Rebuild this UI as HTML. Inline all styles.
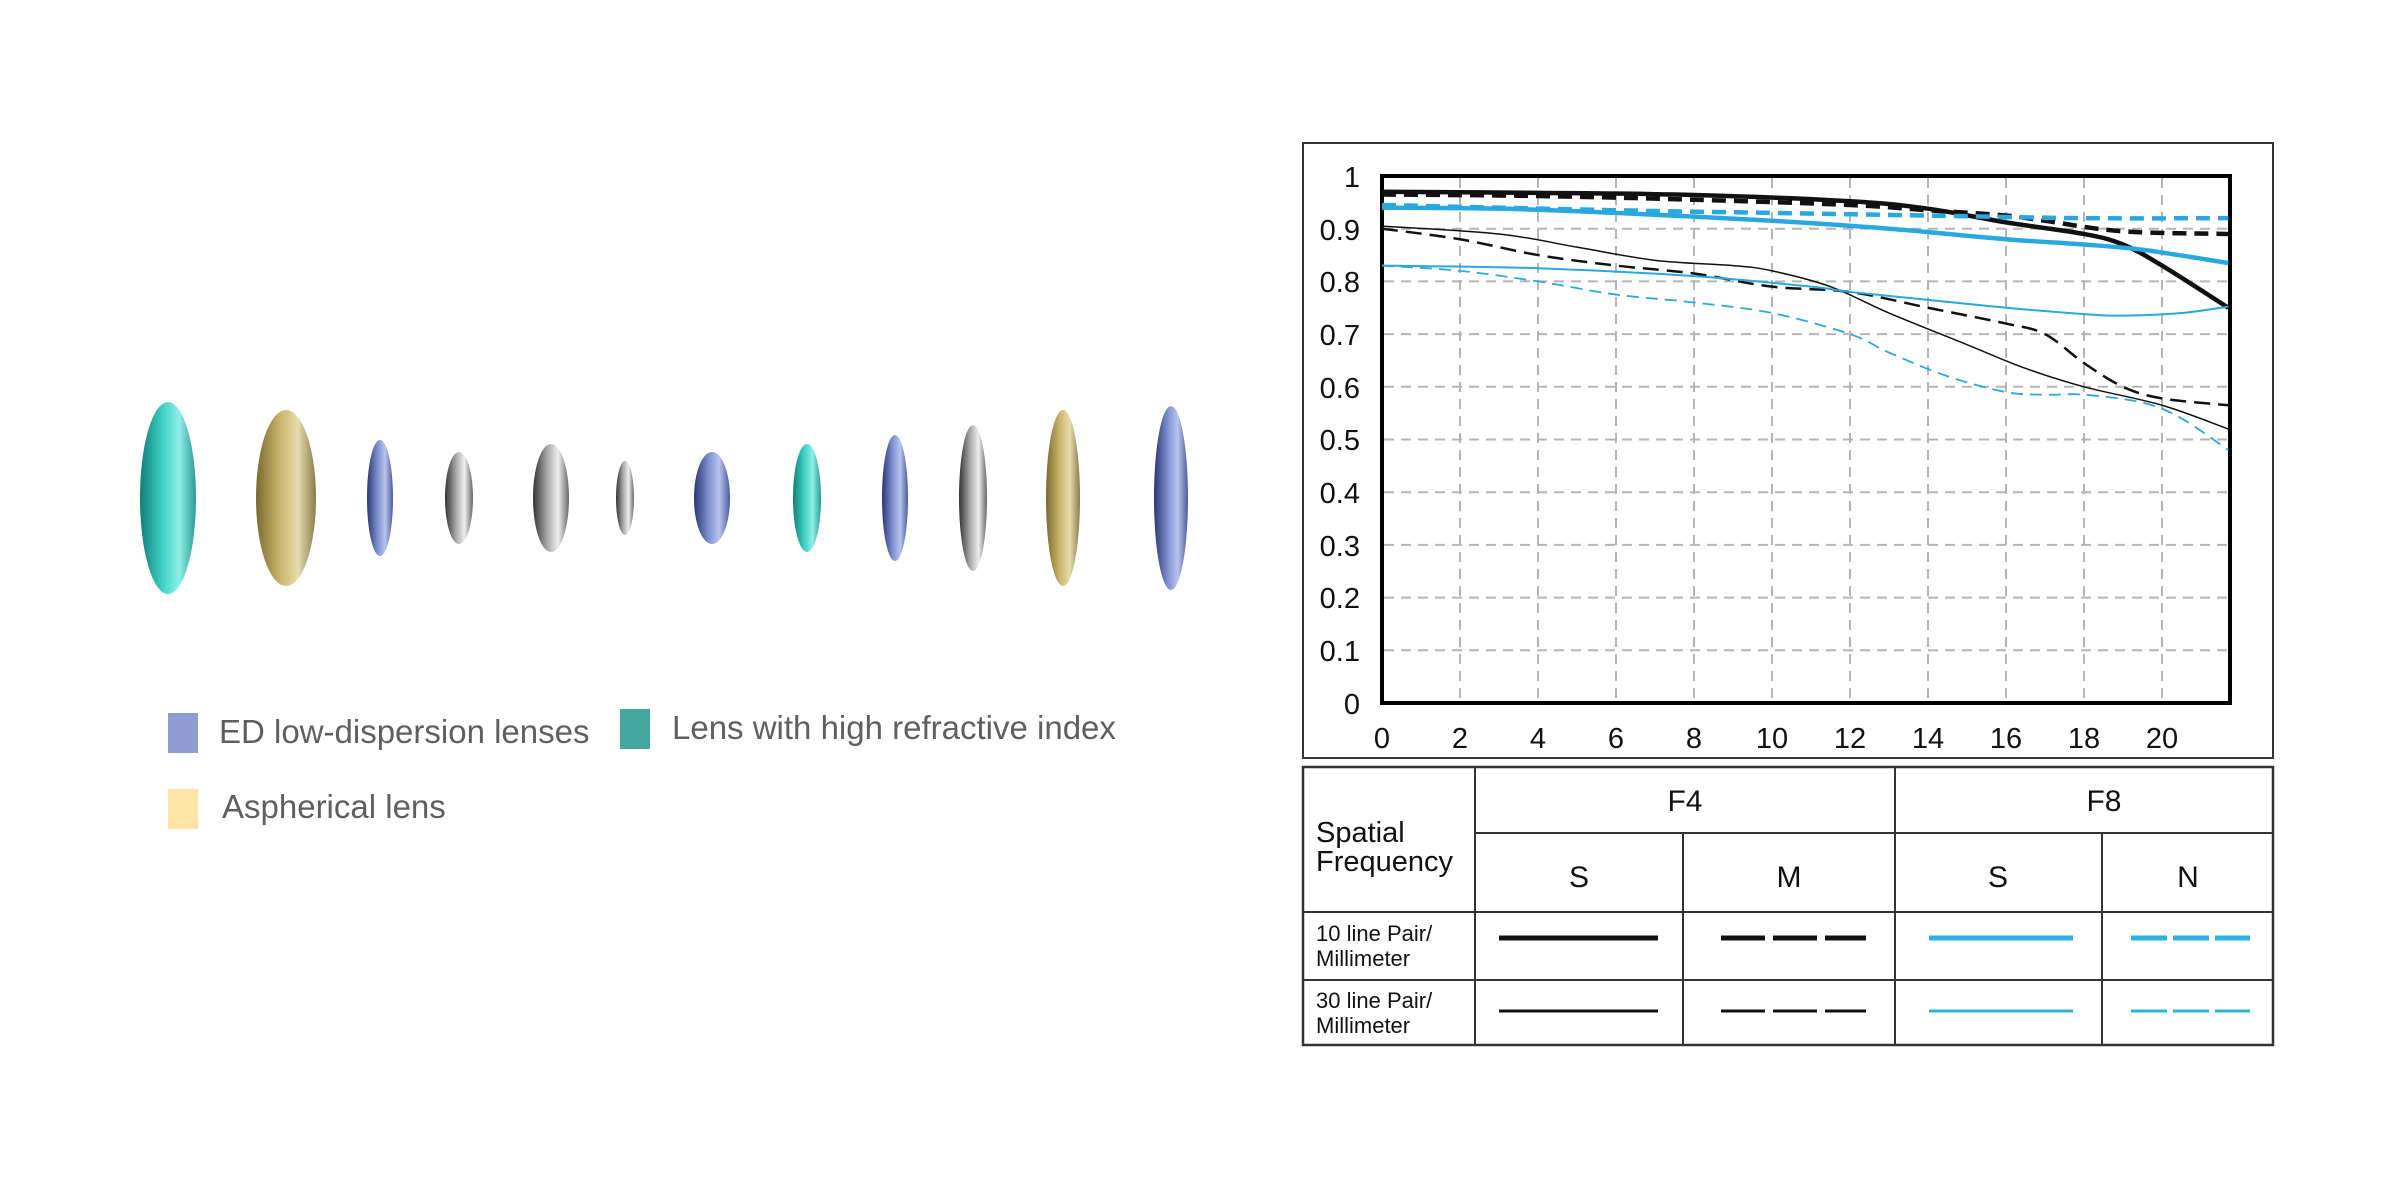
<!DOCTYPE html>
<html><head><meta charset="utf-8"><style>
html,body{margin:0;padding:0;background:#fff;}
body{width:2400px;height:1200px;position:relative;overflow:hidden;font-family:"Liberation Sans",sans-serif;}
.lg{position:absolute;font-size:33px;color:#5f5f5f;white-space:nowrap;}
.sq{position:absolute;width:30px;height:40px;}
</style></head><body>
<svg width="2400" height="1200" style="position:absolute;left:0;top:0">
<defs>
<linearGradient id="gt" x1="0" x2="1"><stop offset="0" stop-color="#0f7f78"/><stop offset=".4" stop-color="#3fd0c4"/><stop offset=".7" stop-color="#8ff0e8"/><stop offset="1" stop-color="#2a9a94"/></linearGradient>
<linearGradient id="gy" x1="0" x2="1"><stop offset="0" stop-color="#7a6a30"/><stop offset=".4" stop-color="#c9b56a"/><stop offset=".7" stop-color="#e6dcae"/><stop offset="1" stop-color="#8a7c4a"/></linearGradient>
<linearGradient id="gb" x1="0" x2="1"><stop offset="0" stop-color="#2a3670"/><stop offset=".4" stop-color="#7d8fcf"/><stop offset=".7" stop-color="#b8c4ec"/><stop offset="1" stop-color="#4a5a9a"/></linearGradient>
<linearGradient id="gs" x1="0" x2="1"><stop offset="0" stop-color="#333"/><stop offset=".4" stop-color="#aaa"/><stop offset=".7" stop-color="#eee"/><stop offset="1" stop-color="#666"/></linearGradient>
</defs>
<g id="lenses">
<ellipse cx="168" cy="498" rx="28" ry="96" fill="url(#gt)"/>
<ellipse cx="286" cy="498" rx="30" ry="88" fill="url(#gy)"/>
<ellipse cx="380" cy="498" rx="13" ry="58" fill="url(#gb)"/>
<ellipse cx="459" cy="498" rx="14" ry="46" fill="url(#gs)"/>
<ellipse cx="551" cy="498" rx="18" ry="54" fill="url(#gs)"/>
<ellipse cx="625" cy="498" rx="9" ry="37" fill="url(#gs)"/>
<ellipse cx="712" cy="498" rx="18" ry="46" fill="url(#gb)"/>
<ellipse cx="807" cy="498" rx="14" ry="54" fill="url(#gt)"/>
<ellipse cx="895" cy="498" rx="13" ry="63" fill="url(#gb)"/>
<ellipse cx="973" cy="498" rx="14" ry="73" fill="url(#gs)"/>
<ellipse cx="1063" cy="498" rx="17" ry="88" fill="url(#gy)"/>
<ellipse cx="1171" cy="498" rx="17" ry="92" fill="url(#gb)"/>
</g>
<rect x="1303" y="143" width="970" height="615" fill="none" stroke="#333" stroke-width="2"/>
<g id="grid" stroke="#b5b5b5" stroke-width="2" stroke-dasharray="10,7"></g>
<rect x="1382" y="176" width="848" height="527" fill="none" stroke="#000" stroke-width="4"/>
<g id="curves" fill="none"></g>
<g font-size="29" fill="#111" text-anchor="end">
<text x="1360" y="187">1</text><text x="1360" y="240">0.9</text><text x="1360" y="292">0.8</text><text x="1360" y="345">0.7</text><text x="1360" y="398">0.6</text><text x="1360" y="450">0.5</text><text x="1360" y="503">0.4</text><text x="1360" y="556">0.3</text><text x="1360" y="608">0.2</text><text x="1360" y="661">0.1</text><text x="1360" y="714">0</text>
</g>
<g font-size="29" fill="#111" text-anchor="middle">
<text x="1382" y="748">0</text><text x="1460" y="748">2</text><text x="1538" y="748">4</text><text x="1616" y="748">6</text><text x="1694" y="748">8</text><text x="1772" y="748">10</text><text x="1850" y="748">12</text><text x="1928" y="748">14</text><text x="2006" y="748">16</text><text x="2084" y="748">18</text><text x="2162" y="748">20</text>
</g>
<g stroke="#333" stroke-width="2" fill="none">
<rect x="1303" y="767" width="970" height="278" stroke-width="2.5"/>
<line x1="1475" y1="767" x2="1475" y2="1045"/>
<line x1="1475" y1="833" x2="2273" y2="833"/>
<line x1="1303" y1="912" x2="2273" y2="912"/>
<line x1="1303" y1="980" x2="2273" y2="980"/>
<line x1="1895" y1="767" x2="1895" y2="1045"/>
<line x1="1683" y1="833" x2="1683" y2="1045"/>
<line x1="2102" y1="833" x2="2102" y2="1045"/>
</g>
<g font-size="30" fill="#111" text-anchor="middle">
<text x="1685" y="811">F4</text><text x="2104" y="811">F8</text>
<text x="1579" y="887">S</text><text x="1789" y="887">M</text><text x="1998" y="887">S</text><text x="2188" y="887">N</text>
</g>
<g font-size="29" fill="#111"><text x="1316" y="842">Spatial</text><text x="1316" y="871">Frequency</text></g>
<g font-size="22" fill="#111">
<text x="1316" y="941">10 line Pair/</text><text x="1316" y="966">Millimeter</text>
<text x="1316" y="1008">30 line Pair/</text><text x="1316" y="1033">Millimeter</text>
</g>
<g stroke-width="5">
<line x1="1499" y1="938" x2="1658" y2="938" stroke="#111"/>
<line x1="1721" y1="938" x2="1866" y2="938" stroke="#111" stroke-dasharray="44,8"/>
<line x1="1929" y1="938" x2="2073" y2="938" stroke="#29b2e2"/>
<line x1="2131" y1="938" x2="2250" y2="938" stroke="#29b2e2" stroke-dasharray="36,6"/>
</g>
<g stroke-width="3">
<line x1="1499" y1="1011" x2="1658" y2="1011" stroke="#111"/>
<line x1="1721" y1="1011" x2="1866" y2="1011" stroke="#111" stroke-dasharray="44,8"/>
<line x1="1929" y1="1011" x2="2073" y2="1011" stroke="#29b2e2"/>
<line x1="2131" y1="1011" x2="2250" y2="1011" stroke="#29b2e2" stroke-dasharray="36,6"/>
</g>
</svg>
<div class="sq" style="left:168px;top:713px;background:#8d9dd3"></div>
<div class="lg" style="left:219px;top:713px">ED low-dispersion lenses</div>
<div class="sq" style="left:620px;top:709px;background:#45a8a0"></div>
<div class="lg" style="left:672px;top:709px">Lens with high refractive index</div>
<div class="sq" style="left:168px;top:789px;background:#fae3a5"></div>
<div class="lg" style="left:222px;top:788px">Aspherical lens</div>
<script>
(function(){
var X=function(u){return 1382+u*39.0},Y=function(v){return 703-v*527};
var g=document.getElementById('grid'),s='';
for(var i=1;i<=10;i++){s+='<line x1="1384" x2="2228" y1="'+Y(i/10)+'" y2="'+Y(i/10)+'"/>';}
for(var k=2;k<=20;k+=2){s+='<line y1="178" y2="701" x1="'+X(k)+'" x2="'+X(k)+'"/>';}
g.innerHTML=s;
var B='#111',C='#29a8e0',xm=21.7;
var cs=[
[B,4.5,'',[[0,.97],[4,.968],[8,.964],[12,.952],[14,.938],[16,.912],[18,.89],[19,.87],[20,.83],[xm,.75]]],
[B,4.5,'14,8',[[0,.965],[4,.962],[8,.955],[12,.945],[14,.935],[16,.925],[17,.915],[19,.895],[xm,.89]]],
[C,4.5,'',[[0,.94],[3,.938],[6,.93],[10,.915],[13,.9],[16,.88],[18,.87],[19.5,.86],[xm,.835]]],
[C,4.5,'14,8',[[0,.945],[6,.935],[10,.93],[14,.925],[18,.92],[xm,.92]]],
[B,1.5,'',[[0,.905],[3,.89],[5,.865],[7,.84],[9,.83],[10,.82],[11.5,.79],[13,.74],[15,.68],[16.5,.635],[18,.6],[20,.565],[xm,.52]]],
[B,2.5,'16,8',[[0,.9],[2,.88],[4,.85],[6,.83],[8,.815],[10,.79],[12,.78],[14,.75],[16,.72],[17,.7],[18,.645],[19,.6],[20,.578],[xm,.565]]],
[C,2,'',[[0,.83],[4,.825],[8,.81],[11,.79],[12,.78],[14,.765],[16,.75],[18,.738],[19,.735],[20.5,.74],[xm,.752]]],
[C,1.8,'12,7',[[0,.83],[2,.82],[4,.8],[6,.775],[8,.76],[10,.74],[12,.7],[13,.665],[14.5,.62],[16,.59],[17,.585],[18,.585],[19.5,.57],[20.5,.54],[xm,.48]]]
];
var out='';
cs.forEach(function(c){
var p=c[3].map(function(q){return [X(q[0]),Y(q[1])]}),d='M'+p[0][0]+','+p[0][1];
for(var i=0;i<p.length-1;i++){var p0=p[i-1]||p[i],p1=p[i],p2=p[i+1],p3=p[i+2]||p2;
d+=' C'+(p1[0]+(p2[0]-p0[0])/6)+','+(p1[1]+(p2[1]-p0[1])/6)+' '+(p2[0]-(p3[0]-p1[0])/6)+','+(p2[1]-(p3[1]-p1[1])/6)+' '+p2[0]+','+p2[1];}
out+='<path d="'+d+'" stroke="'+c[0]+'" stroke-width="'+c[1]+'"'+(c[2]?' stroke-dasharray="'+c[2]+'"':'')+'/>';
});
document.getElementById('curves').innerHTML=out;
})();
</script>
</body></html>
